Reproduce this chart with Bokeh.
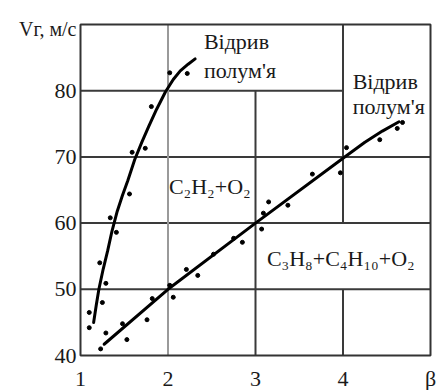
from bokeh.plotting import figure
from bokeh.core.properties import value
from bokeh.embed import file_html
from bokeh.resources import INLINE

# ---- data ----
# C2H2+O2: fitted curve and measured points
c2_curve_x = [1.15, 1.18, 1.21, 1.26, 1.31, 1.36, 1.42, 1.48, 1.54, 1.62, 1.70, 1.78, 1.87, 1.97, 2.06, 2.14, 2.23, 2.31]
c2_curve_y = [45.0, 47.6, 50.0, 53.1, 55.8, 58.8, 61.8, 64.2, 66.4, 69.6, 72.2, 74.6, 77.2, 79.8, 81.7, 83.0, 84.0, 84.8]
c2_pts_x = [1.10, 1.10, 1.22, 1.25, 1.29, 1.34, 1.41, 1.56, 1.59, 1.74, 1.81, 2.02, 2.22]
c2_pts_y = [44.2, 46.5, 54.0, 48.0, 50.9, 60.8, 58.6, 64.4, 70.7, 71.3, 77.6, 82.7, 82.6]

# C3H8+C4H10+O2: fitted curve and measured points
c3_curve_x = [1.27, 2.0, 3.0, 4.0, 4.25, 4.45, 4.64]
c3_curve_y = [41.7, 50.0, 60.0, 69.8, 72.2, 73.9, 75.3]
c3_pts_x = [1.23, 1.29, 1.48, 1.53, 1.76, 1.82, 2.02, 2.06, 2.21, 2.34, 2.52, 2.75, 2.85,
            3.07, 3.09, 3.15, 3.37, 3.65, 3.97, 4.04, 4.42, 4.62, 4.68]
c3_pts_y = [41.0, 43.4, 44.8, 42.4, 45.4, 48.6, 50.6, 48.8, 53.0, 52.1, 55.3, 57.7, 57.1,
            59.1, 61.5, 63.2, 62.7, 67.4, 67.6, 71.4, 72.6, 74.3, 75.2]

y_ticks = [40, 50, 60, 70, 80]
y_tick_labels = ["40", "50", "60", "70", "80"]
x_ticks = [1, 2, 3, 4, 5]
x_tick_labels = ["1", "2", "3", "4", "β"]
y_title = "Vг, м/с"

caption_x = [2.41, 2.41, 4.11, 4.11, 2.01, 3.13]
caption_y = [87.4, 83.05, 81.4, 77.6, 65.5, 54.65]
caption_text = ["Відрив", "полум'я", "Відрив", "полум'я", "C₂H₂+O₂", "C₃H₈+C₄H₁₀+O₂"]

# grid segments (with gaps where the chart puts its captions)
grid_dark_x0 = [1, 1, 1, 1, 3, 4, 4]
grid_dark_y0 = [50, 60, 70, 80, 40, 60, 40]
grid_dark_x1 = [5, 5, 5, 4, 3, 4, 4]
grid_dark_y1 = [50, 60, 70, 80, 80, 90, 50]
grid_light_x = [2]

X0, X1, Y0, Y1 = 1, 5, 40, 90
FONT = value("Liberation Serif")
TXT = "#1a1a1a"

# data frame spans 80..430 px horizontally and 24..355 px vertically
px_x = (X1 - X0) / 350.0
px_y = (Y1 - Y0) / 331.0
p = figure(width=437, height=390,
           x_range=(X0 - 80 * px_x, X1 + 7 * px_x),
           y_range=(Y0 - 35 * px_y, Y1 + 24 * px_y),
           output_backend="svg", toolbar_location=None,
           x_axis_location=None, y_axis_location=None,
           min_border=0, background_fill_color="white", border_fill_color="white")
p.xgrid.visible = False
p.ygrid.visible = False
p.outline_line_color = None

# grid and frame
p.segment(x0=grid_dark_x0, y0=grid_dark_y0, x1=grid_dark_x1, y1=grid_dark_y1,
          line_color="#3a3a3a", line_width=2)
p.segment(x0=grid_light_x, y0=[Y0], x1=grid_light_x, y1=[Y1],
          line_color="#9a9a9a", line_width=2)
p.rect(x=[(X0 + X1) / 2], y=[(Y0 + Y1) / 2], width=[X1 - X0], height=[Y1 - Y0],
       fill_color=None, line_color="#333333", line_width=2)

# curves and measured points
p.line(c2_curve_x, c2_curve_y, line_color="black", line_width=3, line_join="round", line_cap="round")
p.line(c3_curve_x, c3_curve_y, line_color="black", line_width=3, line_join="round", line_cap="round")
p.scatter(c2_pts_x, c2_pts_y, size=4, color="black")
p.scatter(c3_pts_x, c3_pts_y, size=4, color="black")

# tick labels and axis title
p.text(x=x_ticks, y=[Y0] * len(x_ticks), text=x_tick_labels, y_offset=23,
       text_align="center", text_baseline="middle",
       text_font=FONT, text_font_size="22px", text_color=TXT)
p.text(x=[X0] * len(y_ticks), y=y_ticks, text=y_tick_labels, x_offset=-4,
       text_align="right", text_baseline="middle",
       text_font=FONT, text_font_size="22px", text_color=TXT)
p.text(x=[X0], y=[89.25], text=[y_title], x_offset=-4,
       text_align="right", text_baseline="middle",
       text_font=FONT, text_font_size="20px", text_color=TXT)

# captions
p.text(x=caption_x, y=caption_y, text=caption_text, text_align="left",
       text_baseline="middle", text_font=FONT, text_font_size="22px", text_color=TXT)

open("out.html", "w").write(file_html(p, INLINE))
